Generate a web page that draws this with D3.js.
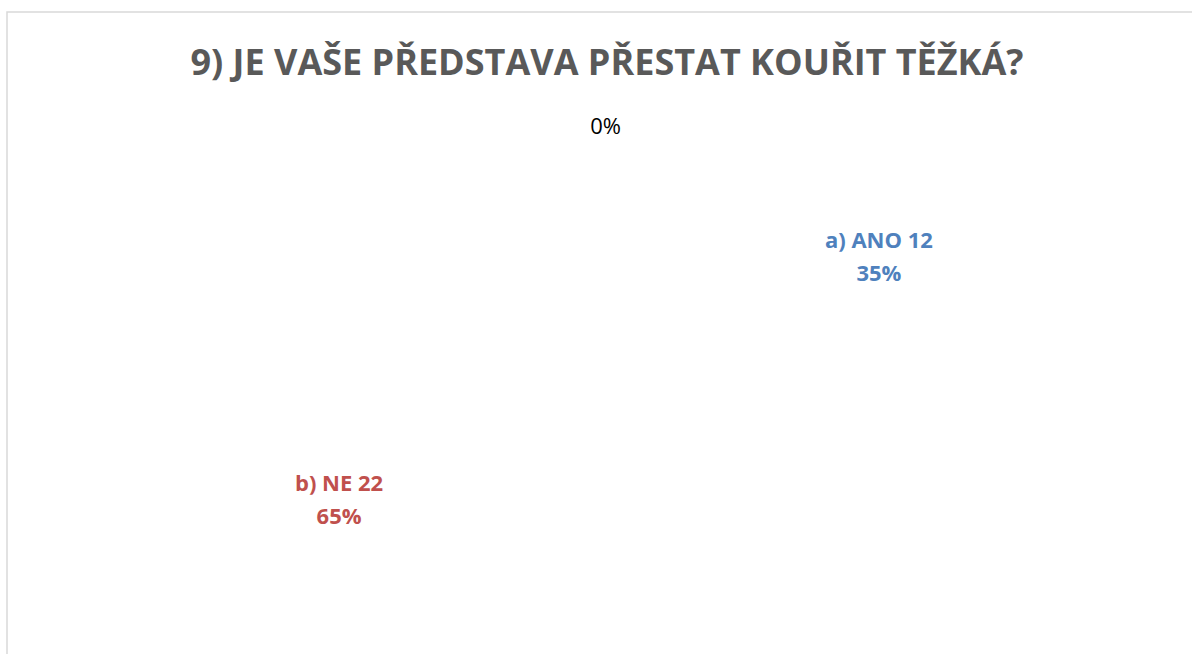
<!DOCTYPE html>
<html>
<head>
<meta charset="utf-8">
<script src="https://cdn.jsdelivr.net/npm/d3@7"></script>
<style>
  html, body { margin: 0; padding: 0; background: #fff; }
  svg { display: block; }
</style>
</head>
<body>
<svg id="chart" width="1192" height="654"></svg>
<script>
const title = "9) JE VAŠE PŘEDSTAVA PŘESTAT KOUŘIT TĚŽKÁ?";
const categories = ["a) ANO", "b) NE", ""];
const values = [12, 22, 0];
const labelColors = ["#4f81bd", "#c0504d", "#000000"];

const W = 1192, H = 654;
const svg = d3.select("#chart");

// chart area border
svg.append("rect")
  .attr("x", 7).attr("y", 12)
  .attr("width", W + 10).attr("height", H + 10)
  .attr("fill", "#fff").attr("stroke", "#d9d9d9").attr("stroke-width", 1.5);

// title
svg.append("text")
  .attr("x", 607).attr("y", 75)
  .attr("text-anchor", "middle")
  .attr("font-family", "'Open Sans', sans-serif")
  .attr("font-weight", "bold")
  .attr("font-size", 36)
  .attr("fill", "#595959")
  .text(title);

const cx = 609, cy = 373, r = 250;
const total = d3.sum(values);
const data = categories.map((c, i) => ({ cat: c, value: values[i], color: labelColors[i] }));
const pie = d3.pie().sort(null).value(d => d.value).startAngle(0.039).endAngle(0.039 + 2 * Math.PI);
const arcs = pie(data);
const arc = d3.arc().innerRadius(0).outerRadius(r);
const labelArc = d3.arc().innerRadius(296).outerRadius(296);
const zeroArc = d3.arc().innerRadius(r - 3).outerRadius(r - 3);

const g = svg.append("g").attr("transform", `translate(${cx},${cy})`);
g.selectAll("path.slice").data(arcs).enter().append("path")
  .attr("class", "slice")
  .attr("d", arc)
  .attr("fill", "#ffffff")
  .attr("stroke", "none");

const fmt = d3.format(".0%");
g.selectAll("text.lbl").data(arcs).enter().append("text")
  .attr("class", "lbl")
  .attr("font-family", "'Open Sans', sans-serif")
  .attr("text-anchor", "middle")
  .attr("fill", d => d.data.color)
  .attr("font-weight", d => d.data.value > 0 ? "bold" : "normal")
  .attr("font-size", d => d.data.value > 0 ? 22 : 22)
  .each(function(d) {
    const t = d3.select(this);
    if (d.data.value > 0) {
      const [x, y] = labelArc.centroid(d);
      t.attr("transform", `translate(${x},${y})`);
      t.append("tspan").attr("x", 0).attr("dy", "-0.15em").text(`${d.data.cat} ${d.data.value}`);
      t.append("tspan").attr("x", 0).attr("dy", "1.47em").text(fmt(d.data.value / total));
    } else {
      const [x, y] = zeroArc.centroid(d);
      t.attr("transform", `translate(${x - 13},${y})`);
      t.append("tspan").attr("x", 0).attr("dy", "0.35em").text(fmt(d.data.value / total));
    }
  });
</script>
</body>
</html>
